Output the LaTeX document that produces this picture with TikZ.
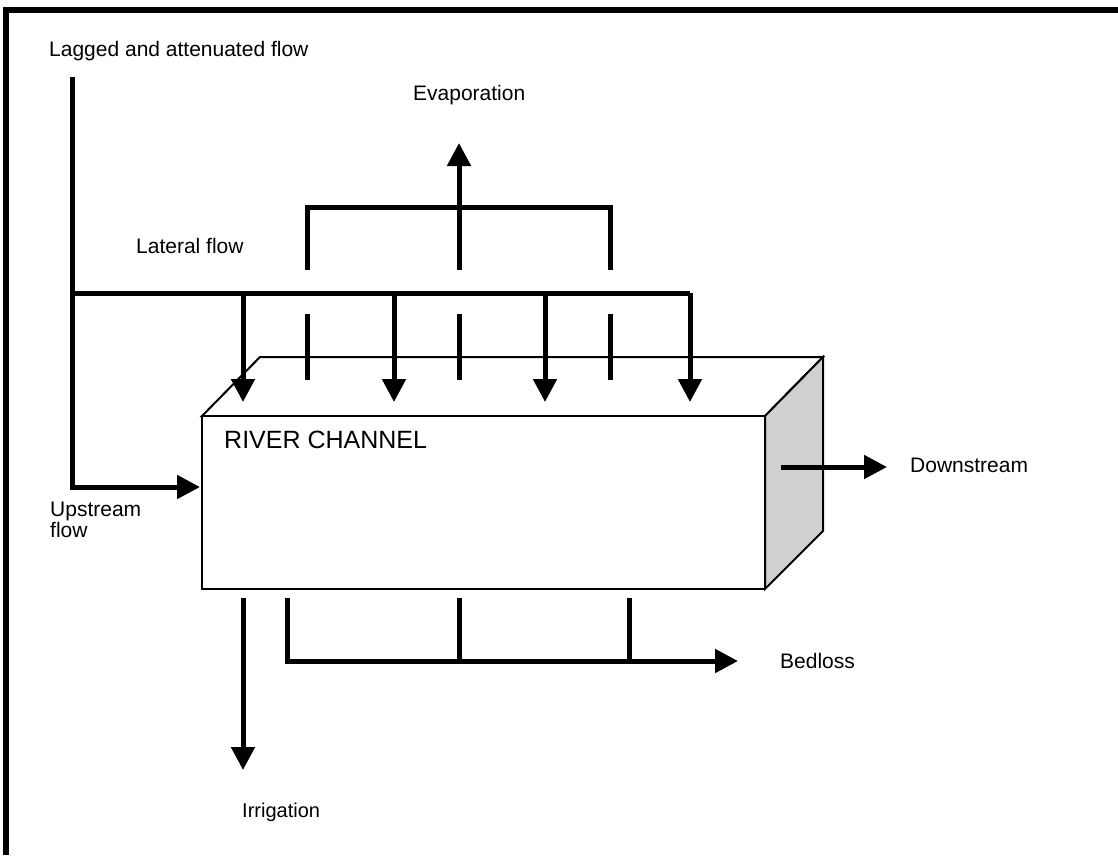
\documentclass[tikz,border=0pt]{standalone}
\usepackage{fontspec}
\setmainfont{Liberation Sans}
\usetikzlibrary{arrows.meta}
\definecolor{sidegray}{HTML}{D0D0D0}
\tikzset{
  flow/.style={line width=5pt, -{Triangle[length=23pt,width=23pt]}},
  flowline/.style={line width=5pt},
  boxline/.style={line width=2pt, line join=miter},
  lbl/.style={inner sep=0pt, anchor=base west, font=\fontsize{21}{24}\selectfont},
  biglbl/.style={inner sep=0pt, anchor=base west, font=\fontsize{25}{30}\selectfont},
  frameline/.style={line width=5.5pt}
}
\begin{document}
\begin{tikzpicture}[x=1pt,y=-1pt]
\useasboundingbox (0,0) rectangle (1118,855);
% frame
\draw[frameline] (6,855) -- (6,10) -- (1118,10);

% box corners
\coordinate (ftl) at (202,416);
\coordinate (ftr) at (765,416);
\coordinate (fbr) at (765,589);
\coordinate (fbl) at (202,589);
\coordinate (btl) at (260,357);
\coordinate (btr) at (823,357);
\coordinate (bbr) at (823,531);
\draw[boxline, fill=white] (ftl) -- (btl) -- (btr) -- (ftr) -- cycle;
\draw[boxline, fill=sidegray] (ftr) -- (btr) -- (bbr) -- (fbr) -- cycle;
\draw[boxline, fill=white] (ftl) rectangle (fbr);
\node[biglbl] (rc) at (224,448) {RIVER CHANNEL};

% labels
\node[lbl] (lag) at (49,56) {Lagged and attenuated flow};
\node[lbl] (evap) at (413,100) {Evaporation};
\node[lbl] (lat) at (136,253) {Lateral flow};
\node[lbl, align=left] (up) at (50,537) {Upstream\\[-3pt]flow};
\node[lbl] (down) at (910,472) {Downstream};
\node[lbl] (bed) at (780,668) {Bedloss};
\node[lbl, font=\fontsize{20}{24}\selectfont] (irr) at (242,817) {Irrigation};

% lagged / lateral flow
\coordinate (l0) at (72,77);
\coordinate (lj) at (72,293);
\coordinate (lc) at (72,487);
\coordinate (lin) at (200,487);
\draw[flow] (l0) -- (lc) -- (lin);
\coordinate (le) at (690,293);
\draw[flowline] (lj) -- (le);
\foreach \x [count=\i] in {243,394,545,690}{
  \coordinate (ls\i) at (\x,293);
  \coordinate (lt\i) at (\x,402);
  \draw[flow] (ls\i) -- (lt\i);
}
% evaporation
\foreach \x [count=\i] in {307,459,610}{
  \coordinate (es\i) at (\x,380);
  \coordinate (ee\i) at (\x,314);
  \draw[flowline] (es\i) -- (ee\i);
}
\coordinate (eb1) at (307,270);
\coordinate (eb2) at (610,270);
\draw[flowline] (eb1) -- (307,207) -- (610,207) -- (eb2);
\coordinate (em) at (459,270);
\coordinate (et) at (459,143);
\draw[flow] (em) -- (et);

% downstream
\coordinate (ds) at (781,467);
\coordinate (dt) at (887,467);
\draw[flow] (ds) -- (dt);

% irrigation
\coordinate (is) at (243,598);
\coordinate (it) at (243,770);
\draw[flow] (is) -- (it);

% bedloss
\coordinate (b1) at (287,598);
\coordinate (b2) at (459,598);
\coordinate (b3) at (629,598);
\coordinate (bt) at (738,661);
\draw[flow] (b1) -- (287,661) -- (bt);
\draw[flowline] (b2) -- (459,661);
\draw[flowline] (b3) -- (629,661);
\end{tikzpicture}
\end{document}
